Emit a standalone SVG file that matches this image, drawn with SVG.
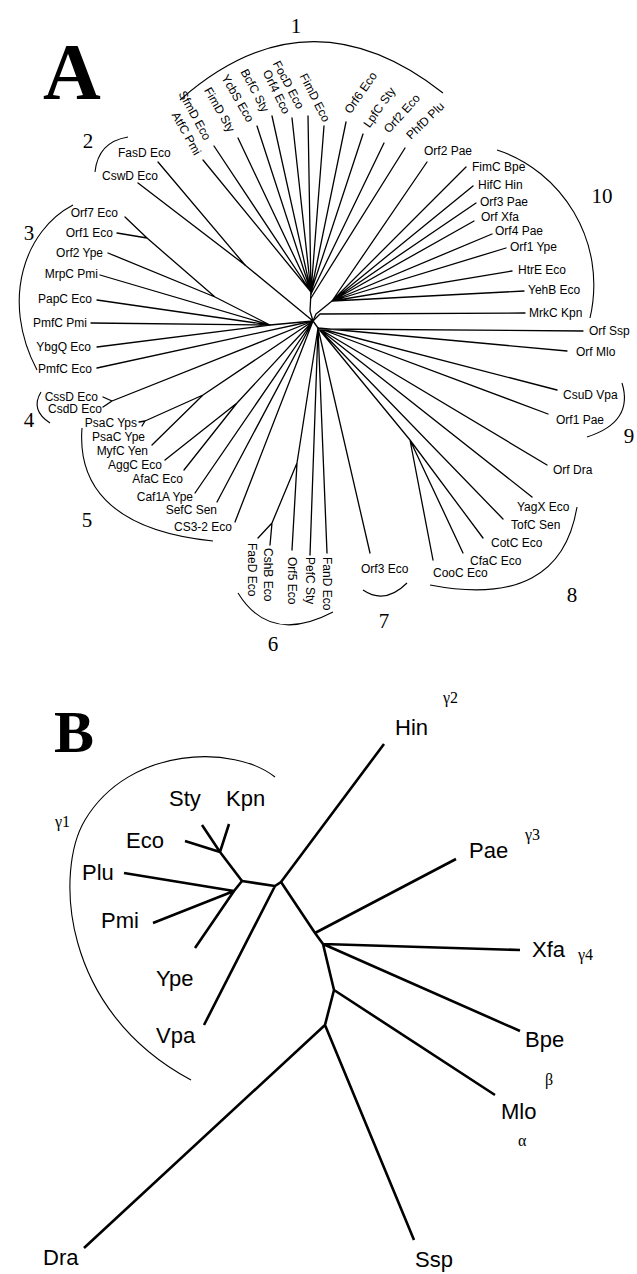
<svg xmlns="http://www.w3.org/2000/svg" width="637" height="1274" viewBox="0 0 637 1274">
<style>
.l{font-family:"Liberation Sans",Arial,sans-serif;font-size:12px;fill:#000}
.e{text-anchor:end}
.n{font-family:"Liberation Serif","Times New Roman",serif;font-size:21px;fill:#000;text-anchor:middle}
.big{font-family:"Liberation Serif","Times New Roman",serif;font-weight:bold;fill:#000}
.br{fill:none;stroke:#000;stroke-width:1.3;stroke-linecap:round;stroke-linejoin:round}
.arc{fill:none;stroke:#000;stroke-width:1.1}
.bB{fill:none;stroke:#000;stroke-width:2.6;stroke-linejoin:round}
.lB{font-family:"Liberation Sans",Arial,sans-serif;font-size:22px;fill:#000}
.g{font-family:"Liberation Serif","Times New Roman",serif;font-size:16px;fill:#000}
</style>
<rect width="637" height="1274" fill="#fff"/>
<text class="big" x="43" y="99" font-size="80">A</text>
<text class="big" x="54" y="752" font-size="60">B</text>

<g id="connectors-A" class="br">
<path d="M311,292 L310,311 L313,321 M332,301 L316,314 L313,321 M245,265 L313,321 M270,325 L313,321 M313,321 L318,328"/>
<path d="M203,160 L311,292 M214,146 L311,292 M238,138 L311,292 M257,126 L311,292 M272,116 L311,292 M292,118 L311,292 M308,116 L311,292 M324,126 L311,292 M346,122 L311,292 M363,134 L311,292 M384,143 L311,294 M405,148 L311,298"/>
<path d="M158,162 L245,265 M138,183 L245,265"/>
<path d="M125,217 L147,238 L215,297 L270,325 M117,233 L147,238 M108,253 L215,297 M100,275 L270,325 M97,300 L270,325 M91,323 L270,325 M97,347 L270,325 M97,368 L313,321"/>
<path d="M103,397 L112,401 L313,321 M103,407 L112,401"/>
<path d="M139,422 L145,421 L142,426 M145,421 L203,395 L313,321 M152,445 L203,395 M165,460 L237,403 M184,470 L237,403 L313,321 M195,493 L313,321 M217,502 L313,321 M235,522 L313,321"/>
<path d="M258,538 L272,523 M270,545 L272,523 L297,463 M292,550 L297,463 L318,328 M310,555 L318,328 M327,553 L318,328 M370,553 L318,328"/>
<path d="M433,560 L410,440 M463,553 L410,440 M483,538 L410,440 L318,328 M503,519 L318,328 M532,497 L318,328 M547,465 L318,328 M557,390 L318,328 M548,414 L318,328 M567,351 L318,328 M583,331 L318,329"/>
<path d="M427,162 L332,301 M466,167 L332,301 M473,186 L332,301 M476,203 L332,301 M474,221 L332,301 M492,234 L332,301 M506,248 L332,301 M512,271 L332,301 M524,291 L332,301 M525,313 L320,314 L313,321"/>
</g>

<g id="clusters-A">
<path class="arc" d="M180,100 Q308,-13 443,93"/><text class="n" x="296" y="33">1</text>
<path class="arc" d="M128,137 Q98,142 95,172"/><text class="n" x="88" y="148">2</text>
<path class="arc" d="M73,205 C25,230 0,300 37,370"/><text class="n" x="29" y="240">3</text>
<path class="arc" d="M41,392 Q30,410 50,423"/><text class="n" x="29" y="427">4</text>
<path class="arc" d="M82,428 C78,480 105,530 213,541"/><text class="n" x="87" y="527">5</text>
<path class="arc" d="M238,593 Q270,645 333,612"/><text class="n" x="273" y="651">6</text>
<path class="arc" d="M363,590 Q385,605 407,583"/><text class="n" x="384" y="628">7</text>
<path class="arc" d="M430,585 Q560,610 577,507"/><text class="n" x="572" y="602">8</text>
<path class="arc" d="M622,383 Q634,422 587,437"/><text class="n" x="629" y="443">9</text>
<path class="arc" d="M497,150 C560,170 608,240 590,318"/><text class="n" x="602" y="203">10</text>
</g>

<g id="AtfC_Pmi"><text class="l e" transform="translate(198,154) rotate(61)" dy="0.35em">AtfC Pmi</text></g>
<g id="SfmD_Eco"><text class="l e" transform="translate(208,139) rotate(61)" dy="0.35em">SfmD Eco</text></g>
<g id="FimD_Sty"><text class="l e" transform="translate(232,131) rotate(60)" dy="0.35em">FimD Sty</text></g>
<g id="YcbS_Eco"><text class="l e" transform="translate(251,121) rotate(60)" dy="0.35em">YcbS Eco</text></g>
<g id="BcfC_Sty"><text class="l e" transform="translate(266,111) rotate(62)" dy="0.35em">BcfC Sty</text></g>
<g id="Orf4_Eco"><text class="l e" transform="translate(287,113) rotate(64)" dy="0.35em">Orf4 Eco</text></g>
<g id="FocD_Eco"><text class="l e" transform="translate(301,108) rotate(62)" dy="0.35em">FocD Eco</text></g>
<g id="FimD_Eco"><text class="l e" transform="translate(327,121) rotate(63)" dy="0.35em">FimD Eco</text></g>
<g id="Orf6_Eco"><text class="l" transform="translate(347,112) rotate(-55)" dy="0.35em">Orf6 Eco</text></g>
<g id="LpfC_Sty"><text class="l" transform="translate(366,126) rotate(-55)" dy="0.35em">LpfC Sty</text></g>
<g id="Orf2_Eco"><text class="l" transform="translate(386,131) rotate(-48)" dy="0.35em">Orf2 Eco</text></g>
<g id="PhfD_Plu"><text class="l" transform="translate(408,137) rotate(-44)" dy="0.35em">PhfD Plu</text></g>

<g id="FasD_Eco"><text class="l" x="118" y="157">FasD Eco</text></g>
<g id="CswD_Eco"><text class="l" x="102" y="180">CswD Eco</text></g>

<g id="Orf7_Eco"><text class="l e" x="118" y="217">Orf7 Eco</text></g>
<g id="Orf1_Eco"><text class="l e" x="113" y="237">Orf1 Eco</text></g>
<g id="Orf2_Ype"><text class="l e" x="103" y="257">Orf2 Ype</text></g>
<g id="MrpC_Pmi"><text class="l e" x="98" y="278">MrpC Pmi</text></g>
<g id="PapC_Eco"><text class="l e" x="92" y="303">PapC Eco</text></g>
<g id="PmfC_Pmi"><text class="l e" x="87" y="327">PmfC Pmi</text></g>
<g id="YbgQ_Eco"><text class="l e" x="91" y="351">YbgQ Eco</text></g>
<g id="PmfC_Eco"><text class="l e" x="92" y="373">PmfC Eco</text></g>

<g id="CssD_Eco"><text class="l e" x="98" y="401">CssD Eco</text></g>
<g id="CsdD_Eco"><text class="l e" x="102" y="413">CsdD Eco</text></g>

<g id="PsaC_Yps"><text class="l e" x="137" y="427">PsaC Yps</text></g>
<g id="PsaC_Ype"><text class="l e" x="145" y="441">PsaC Ype</text></g>
<g id="MyfC_Yen"><text class="l e" x="148" y="455">MyfC Yen</text></g>
<g id="AggC_Eco"><text class="l e" x="162" y="469">AggC Eco</text></g>
<g id="AfaC_Eco"><text class="l e" x="183" y="483">AfaC Eco</text></g>
<g id="Caf1A_Ype"><text class="l e" x="193" y="501">Caf1A Ype</text></g>
<g id="SefC_Sen"><text class="l e" x="217" y="514">SefC Sen</text></g>
<g id="CS3-2_Eco"><text class="l e" x="232" y="531">CS3-2 Eco</text></g>

<g id="FaeD_Eco"><text class="l" transform="translate(252,543) rotate(90)" dy="0.35em">FaeD Eco</text></g>
<g id="CshB_Eco"><text class="l" transform="translate(268,548) rotate(90)" dy="0.35em">CshB Eco</text></g>
<g id="Orf5_Eco"><text class="l" transform="translate(292,557) rotate(90)" dy="0.35em">Orf5 Eco</text></g>
<g id="PefC_Sty"><text class="l" transform="translate(310,557) rotate(90)" dy="0.35em">PefC Sty</text></g>
<g id="FanD_Eco"><text class="l" transform="translate(327,557) rotate(90)" dy="0.35em">FanD Eco</text></g>

<g id="Orf3_Eco"><text class="l" x="361" y="573">Orf3 Eco</text></g>

<g id="YagX_Eco"><text class="l" x="517" y="511">YagX Eco</text></g>
<g id="TofC_Sen"><text class="l" x="511" y="529">TofC Sen</text></g>
<g id="CotC_Eco"><text class="l" x="491" y="547">CotC Eco</text></g>
<g id="CfaC_Eco"><text class="l" x="470" y="565">CfaC Eco</text></g>
<g id="CooC_Eco"><text class="l" x="433" y="577">CooC Eco</text></g>

<g id="Orf_Dra"><text class="l" x="553" y="474">Orf Dra</text></g>
<g id="CsuD_Vpa"><text class="l" x="563" y="399">CsuD Vpa</text></g>
<g id="Orf1_Pae"><text class="l" x="556" y="424">Orf1 Pae</text></g>
<g id="Orf_Mlo"><text class="l" x="576" y="356">Orf Mlo</text></g>
<g id="Orf_Ssp"><text class="l" x="589" y="335">Orf Ssp</text></g>

<g id="Orf2_Pae"><text class="l" x="424" y="155">Orf2 Pae</text></g>
<g id="FimC_Bpe"><text class="l" x="472" y="171">FimC Bpe</text></g>
<g id="HifC_Hin"><text class="l" x="478" y="189">HifC Hin</text></g>
<g id="Orf3_Pae"><text class="l" x="480" y="206">Orf3 Pae</text></g>
<g id="Orf_Xfa"><text class="l" x="481" y="221">Orf Xfa</text></g>
<g id="Orf4_Pae"><text class="l" x="495" y="235">Orf4 Pae</text></g>
<g id="Orf1_Ype"><text class="l" x="510" y="251">Orf1 Ype</text></g>
<g id="HtrE_Eco"><text class="l" x="518" y="274">HtrE Eco</text></g>
<g id="YehB_Eco"><text class="l" x="528" y="294">YehB Eco</text></g>
<g id="MrkC_Kpn"><text class="l" x="529" y="317">MrkC Kpn</text></g>

<g id="connectors-B" class="bB">
<path d="M202,825 L220,852 M229,824 L220,852 M185,841 L220,852 L242,881"/>
<path d="M124,873 L234,891 M153,923 L234,891 M195,948 L234,891 L242,881 L275,886 L204,1025 M275,886 L281,882 L384,744"/>
<path d="M281,882 L315,933 L456,859 M315,933 L323,944 L520,950 M323,944 L520,1031 M323,944 L334,990 L495,1095 M334,990 L325,1025 L84,1248 M325,1025 L414,1240"/>
</g>
<g id="clusters-B">
<path class="arc" d="M275,777 C235,745 130,745 85,820 C55,870 60,1010 191,1080"/>
<text class="g" x="55" y="827">γ1</text>
<text class="g" x="443" y="703">γ2</text>
<text class="g" x="525" y="840">γ3</text>
<text class="g" x="578" y="960">γ4</text>
<text class="g" x="545" y="1085">β</text>
<text class="g" x="518" y="1146">α</text>
</g>
<g id="Sty"><text class="lB" x="169" y="806">Sty</text></g>
<g id="Kpn"><text class="lB" x="226" y="806">Kpn</text></g>
<g id="Eco"><text class="lB" x="126" y="848">Eco</text></g>
<g id="Plu"><text class="lB" x="82" y="880">Plu</text></g>
<g id="Pmi"><text class="lB" x="101" y="928">Pmi</text></g>
<g id="Ype"><text class="lB" x="156" y="986">Ype</text></g>
<g id="Vpa"><text class="lB" x="156" y="1043">Vpa</text></g>
<g id="Hin"><text class="lB" x="395" y="735">Hin</text></g>
<g id="Pae"><text class="lB" x="469" y="858">Pae</text></g>
<g id="Xfa"><text class="lB" x="532" y="957">Xfa</text></g>
<g id="Bpe"><text class="lB" x="525" y="1047">Bpe</text></g>
<g id="Mlo"><text class="lB" x="501" y="1119">Mlo</text></g>
<g id="Ssp"><text class="lB" x="415" y="1267">Ssp</text></g>
<g id="Dra"><text class="lB" x="43" y="1265">Dra</text></g>
</svg>
